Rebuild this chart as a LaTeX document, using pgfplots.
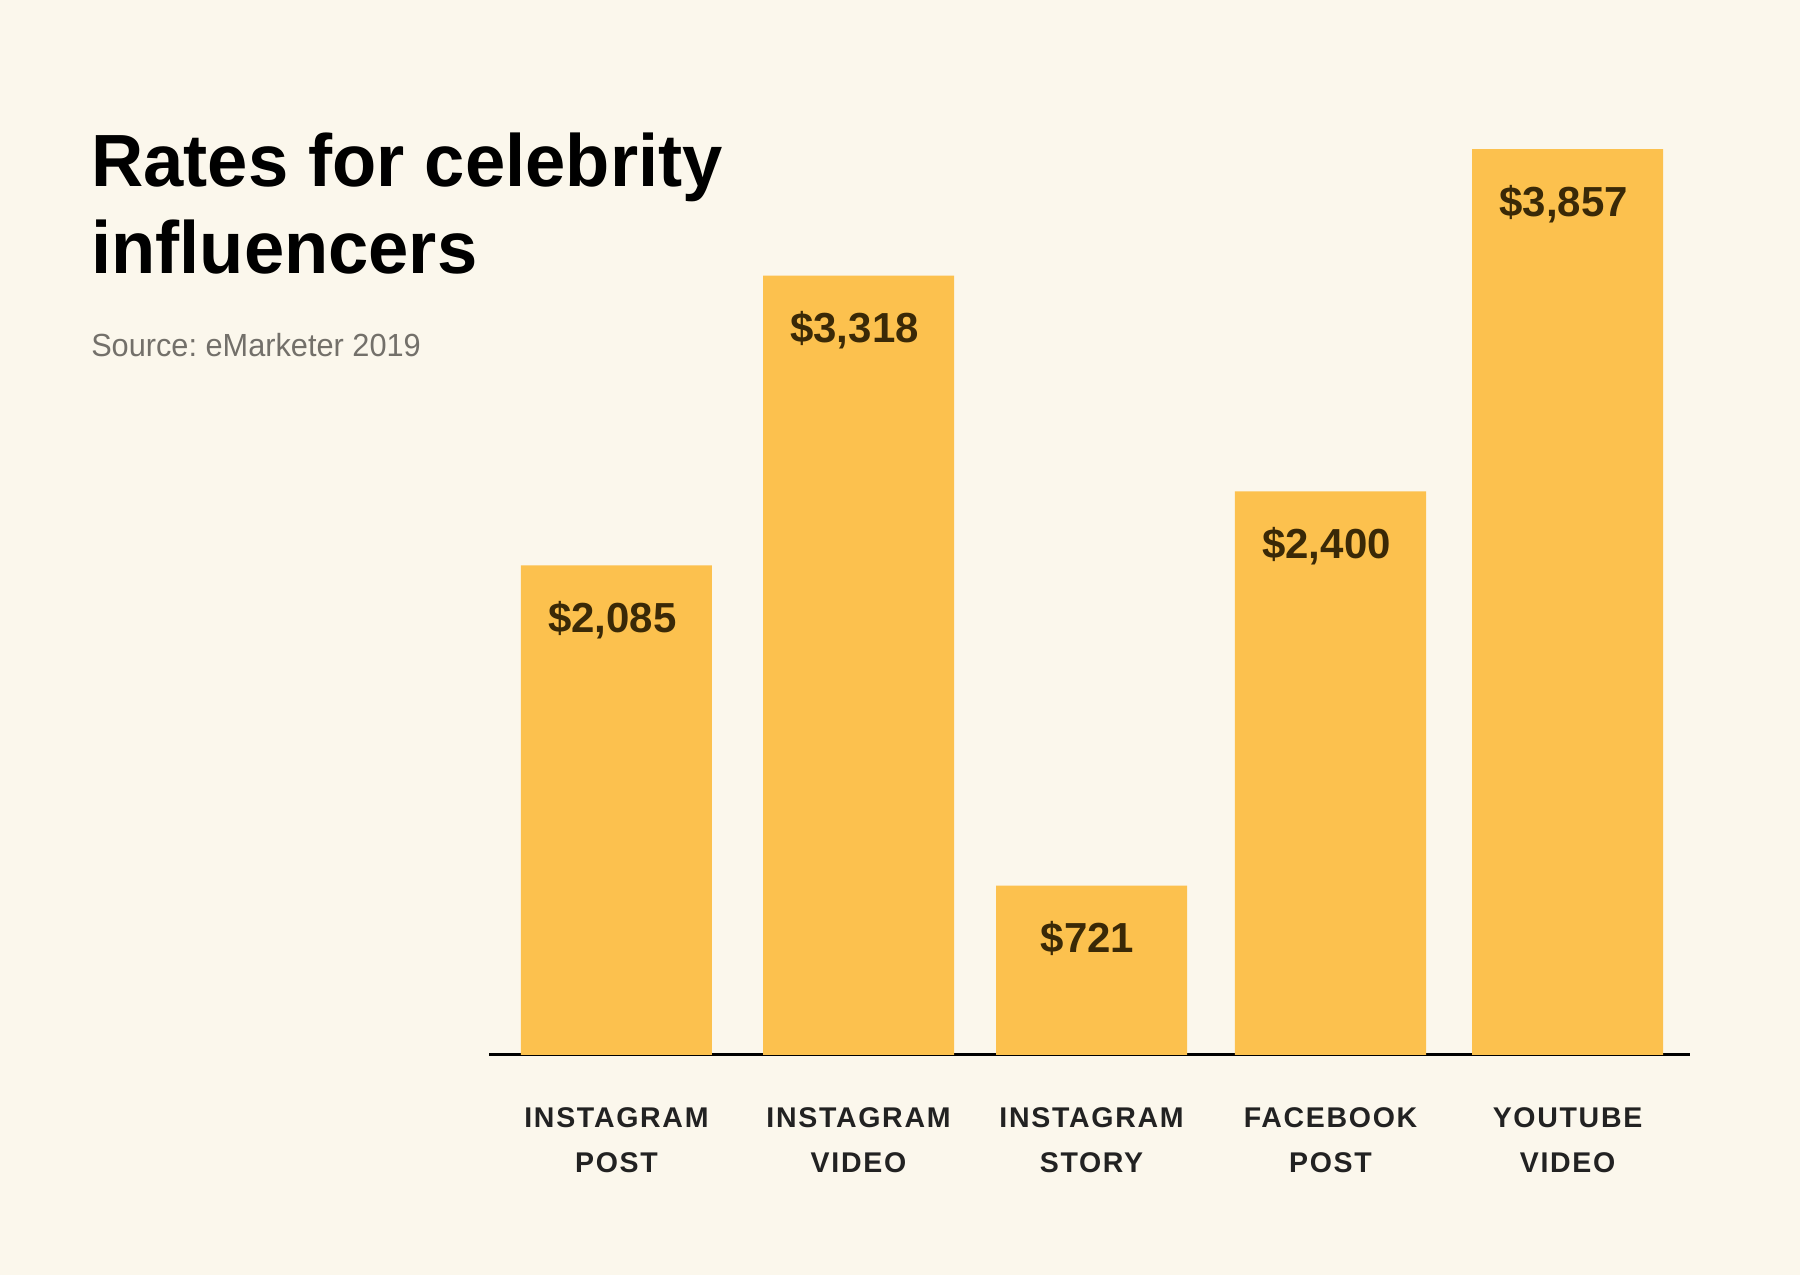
\documentclass[border=0pt]{standalone}
\usepackage{fontspec}
\setmainfont{Liberation Sans}
\newfontfamily\titlefont[FakeStretch=0.978]{Liberation Sans}
\newfontfamily\srcfont[FakeStretch=0.96]{Liberation Sans}
\newfontfamily\catfont[LetterSpace=6]{Liberation Sans}
\usepackage{pgfplots}
\pgfplotsset{compat=1.18}
\definecolor{bgcol}{HTML}{FBF7EC}
\definecolor{barcol}{HTML}{FCC14E}
\definecolor{valcol}{HTML}{3A2907}
\definecolor{srccol}{HTML}{73706A}
\definecolor{catcol}{HTML}{222222}
\frenchspacing
\begin{document}
\begin{tikzpicture}
\fill[bgcol] (0,0) rectangle (720pt,510pt);
\useasboundingbox (0,0) rectangle (720pt,510pt);
\node[anchor=base west, inner sep=0pt] at (36.3pt,435.2pt) {\titlefont\bfseries\fontsize{29.6}{34.8}\selectfont Rates for celebrity};
\node[anchor=base west, inner sep=0pt] at (36.3pt,400.4pt) {\titlefont\bfseries\fontsize{29.6}{34.8}\selectfont influencers};
\node[anchor=base west, inner sep=0pt, text=srccol] at (36.3pt,367.2pt) {\srcfont\fontsize{12.8}{15}\selectfont Source: eMarketer 2019};
\begin{axis}[
  at={(195.6pt,88pt)}, anchor=south west,
  scale only axis, width=480.4pt, height=375.8pt,
  ybar, bar width=76.4pt, bar shift=0pt,
  xmin=-0.536, xmax=4.515, ymin=0, ymax=4000,
  axis x line*=bottom, axis y line=none,
  x axis line style={line width=1.2pt, black, -},
  xtick=data, major tick length=0pt,
  xticklabels={INSTAGRAM\\POST, INSTAGRAM\\VIDEO, INSTAGRAM\\STORY, FACEBOOK\\POST, YOUTUBE\\VIDEO},
  xticklabel style={align=center, inner sep=0pt, anchor=north, yshift=-20.8pt, text=catcol, font=\catfont\bfseries\fontsize{11.4}{18}\selectfont},
  ytick=\empty,
  nodes near coords={\$\pgfmathprintnumber{\pgfplotspointmeta}},
  /pgf/number format/.cd, fixed, precision=0, 1000 sep={,}, assume math mode=true,
  /pgfplots/.cd,
  every node near coord/.append style={anchor=base, yshift=-26.8pt, xshift=-1.6pt, inner sep=0pt, text=valcol, font=\bfseries\fontsize{16.8}{20}\selectfont},
]
\addplot[fill=barcol, draw=none] coordinates {(0,2085) (1.018,3318) (1.998,721) (3.003,2400) (4,3857)};
\end{axis}
\end{tikzpicture}
\end{document}
